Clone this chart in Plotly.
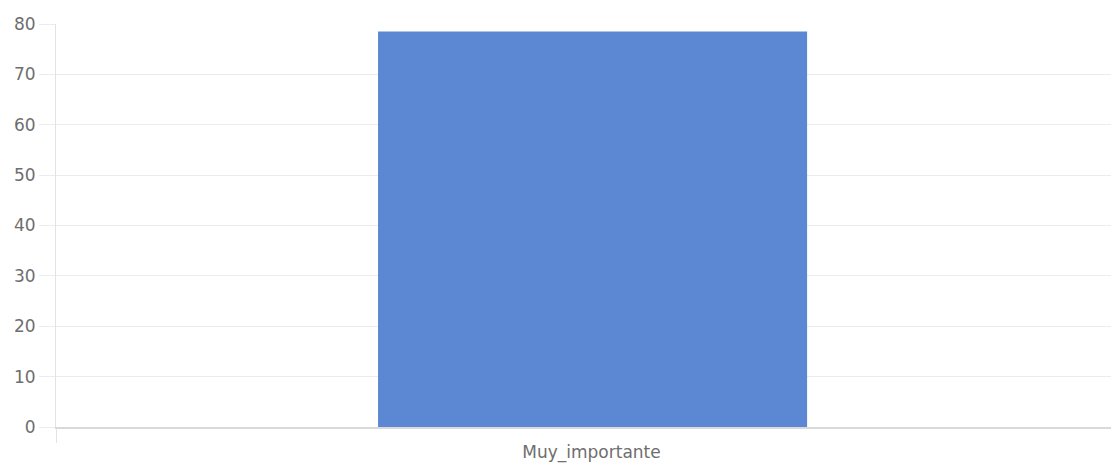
import plotly.graph_objects as go

categories = ["Muy_importante"]
values = [78.5]
y_ticks = [0, 10, 20, 30, 40, 50, 60, 70, 80]

fig = go.Figure()
fig.add_trace(go.Bar(
    x=categories, y=values,
    marker=dict(color="rgb(92,135,210)", line=dict(width=0)),
    width=0.4006, offset=-0.2003 + 0.001,
    hoverinfo="x+y",
))

font = dict(family="DejaVu Sans, Liberation Sans, Arial, sans-serif", size=17, color="#6e6e6e")
fig.update_layout(
    width=1119, height=464,
    margin=dict(l=48, r=0, t=16, b=45, pad=0),
    plot_bgcolor="white", paper_bgcolor="white",
    showlegend=False,
    font=font,
    xaxis=dict(
        range=[-0.5, 0.5],
        tickson="boundaries", ticks="outside", ticklen=14, tickcolor="#e3e3e3",
        showgrid=False, showline=True, linecolor="#d9d9d9", linewidth=1.5,
        tickfont=font, ticklabelstandoff=9,
        fixedrange=True,
    ),
    yaxis=dict(
        range=[0, 80], tickvals=y_ticks,
        ticks="outside", ticklen=16, tickcolor="#ececec", tickwidth=1,
        showgrid=True, gridcolor="#ececec", gridwidth=1,
        zeroline=False,
        showline=True, linecolor="#e3e3e3", linewidth=1,
        tickfont=font, ticklabelstandoff=0,
        fixedrange=True,
    ),
)

fig.write_html("out.html")
